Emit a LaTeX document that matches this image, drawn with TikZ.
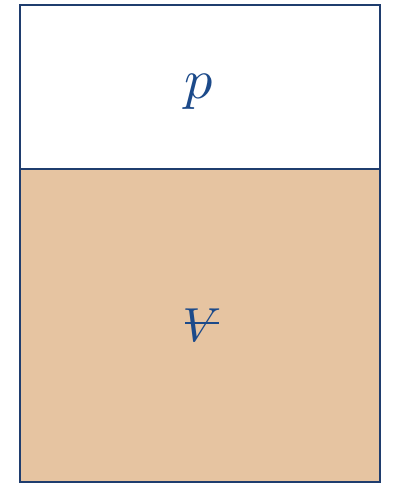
\documentclass[tikz,border=0pt]{standalone}
\definecolor{boxline}{HTML}{1F3D6E}
\definecolor{labelblue}{HTML}{1C4A8A}
\definecolor{sandfill}{HTML}{E6C4A1}
\begin{document}
\begin{tikzpicture}
	\tikzset{
		part/.style={draw=boxline, line width=2.1pt},
		sym/.style={text=labelblue, inner sep=0pt, scale=4}
	}

		\useasboundingbox (0, 0) rectangle (9.875, 12.15);
		\draw[part, fill=white] (0.5, 7.925) rectangle (9.5, 12.025);
		\draw[part, fill=sandfill] (0.5, 0.1) rectangle (9.5, 7.925);
		\node[sym] (pres) at (4.975, 9.85) {$p$};
		\node[sym, scale=0.85] (vol) at (5.05, 4.03) {$V$};
		% bar through the V
		\draw[labelblue, line width=1.3pt] ([xshift=-0.42cm, yshift=0.05cm]vol.center) -- ([xshift=0.42cm, yshift=0.05cm]vol.center);

	\end{tikzpicture}
\end{document}
